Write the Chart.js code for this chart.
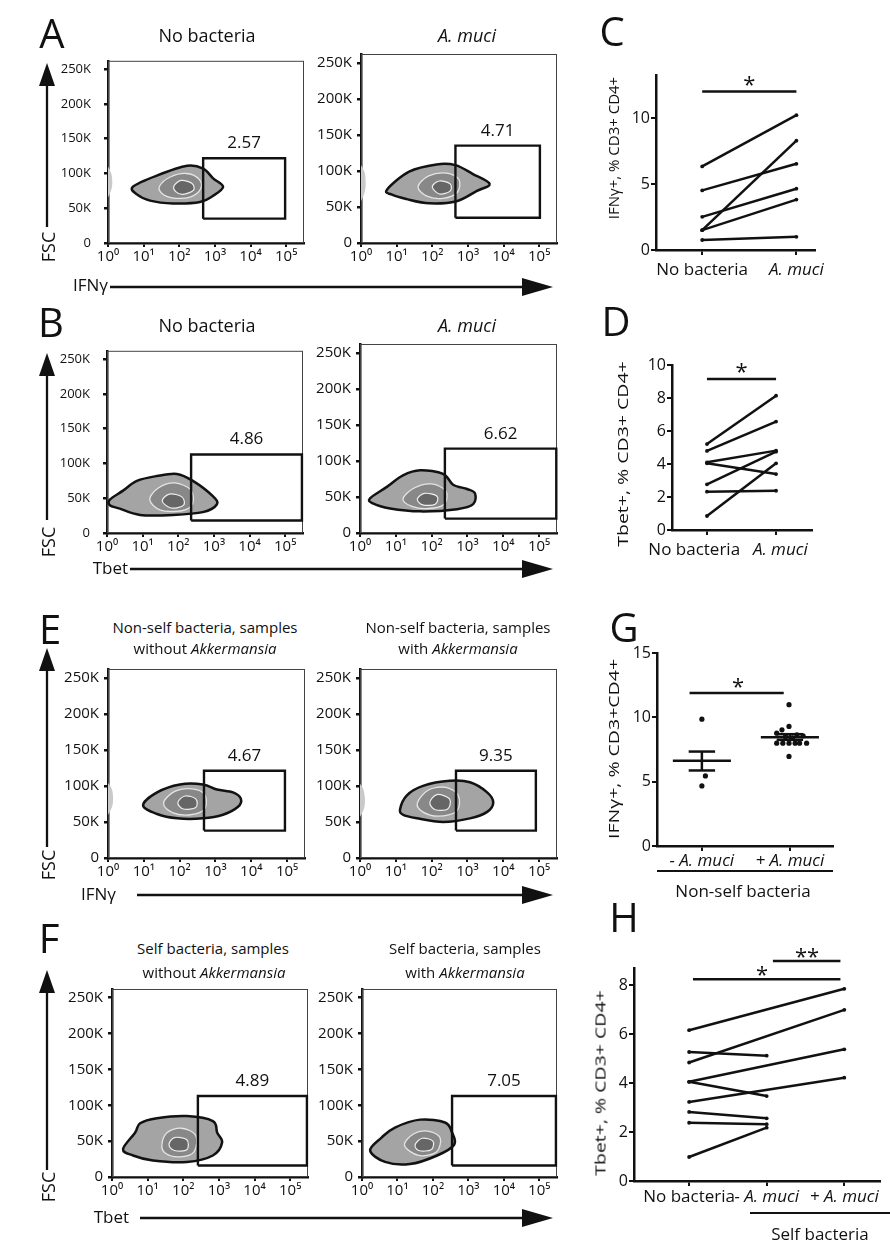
<!DOCTYPE html>
<html><head><meta charset="utf-8">
<script src="https://cdn.jsdelivr.net/npm/chart.js@4.4.1/dist/chart.umd.min.js"></script>
<style>
html,body{margin:0;padding:0;background:#fff;}
body{width:890px;height:1247px;position:relative;overflow:hidden;font-family:'Open Sans','DejaVu Sans',sans-serif;color:#111;}
canvas{position:absolute;}
.t{position:absolute;white-space:nowrap;line-height:1;color:#111;}
.ln{position:absolute;background:#111;}
svg{position:absolute;left:0;top:0;}
</style></head><body>
<script>
// ---------------- DATA ----------------
// Flow plots: axes
const decadeTicks = [0, 1, 2, 3, 4, 5];
const decadeLabels = ['10⁰', '10¹', '10²', '10³', '10⁴', '10⁵'];
const fscTicks = [0, 50, 100, 150, 200, 250];
const fscLabels = ['0', '50K', '100K', '150K', '200K', '250K'];
const decadeMax = 5.5;
const fscMax = 262.144;

// gate percentages
const gatePct = ['2.57', '4.71', '4.86', '6.62', '4.67', '9.35', '4.89', '7.05'];
// gates [xmin decade, xmax decade, ymin K, ymax K]
const gateA1 = [2.67, 4.97, 35, 122];
const gateA2 = [2.65, 5.02, 35, 135];
const gateB1 = [2.36, 5.47, 18, 113];
const gateB2 = [2.37, 5.48, 20, 117];
const gateE1 = [2.68, 4.94, 38, 121];
const gateE2 = [2.68, 4.91, 38, 121];
const gateF1 = [2.41, 5.47, 16, 113];
const gateF2 = [2.54, 5.47, 16, 113];

// contour outlines [decade, K]
const blobA1Outer = [[0.70,81],[1.37,97],[2.22,111],[2.67,107],[2.95,93],[3.23,81],[2.95,68],[2.58,59],[1.82,57],[1.18,61],[0.81,70]];
const blobA1Mid   = [[1.45,82],[1.75,95],[2.2,100],[2.55,92],[2.6,78],[2.3,66],[1.8,65],[1.5,72]];
const blobA1Core  = [[1.85,82],[2.05,90],[2.35,86],[2.4,76],[2.1,70],[1.9,74]];
const blobA2Outer = [[0.73,74],[1.35,99],[2.12,109],[2.65,108],[3.13,96],[3.61,82],[3.24,72],[2.68,58],[1.92,55],[1.27,61],[0.87,67]];
const blobA2Mid   = [[1.6,78],[1.9,93],[2.4,97],[2.75,88],[2.7,70],[2.3,62],[1.85,65]];
const blobA2Core  = [[2.0,78],[2.2,86],[2.5,82],[2.5,72],[2.2,68]];
const blobB1Outer = [[0.08,48],[0.45,61],[0.84,75],[1.40,82],[1.96,85],[2.41,75],[2.97,53],[3.08,41],[2.69,30],[1.85,26],[0.93,26],[0.36,35],[0.08,40]];
const blobB1Mid   = [[1.2,48],[1.45,65],[1.9,72],[2.35,62],[2.4,42],[2.1,32],[1.5,33]];
const blobB1Core  = [[1.55,46],[1.75,56],[2.1,52],[2.15,40],[1.8,36]];
const blobB2Outer = [[0.28,48],[0.75,64],[1.2,80],[1.68,87],[2.32,82],[2.6,67],[2.99,61],[3.21,55],[3.16,40],[2.71,33],[1.68,30],[0.84,34],[0.36,41]];
const blobB2Mid   = [[1.2,47],[1.5,62],[2.0,68],[2.4,58],[2.35,40],[1.9,34],[1.45,37]];
const blobB2Core  = [[1.6,47],[1.8,55],[2.15,51],[2.1,40],[1.75,39]];
const blobE1Outer = [[0.98,73],[1.37,91],[2.01,102],[2.65,102],[3.04,95],[3.49,91],[3.71,82],[3.63,71],[3.21,60],[2.65,55],[1.93,55],[1.37,61]];
const blobE1Mid   = [[1.55,76],[1.85,92],[2.35,96],[2.7,88],[2.7,68],[2.3,60],[1.8,63]];
const blobE1Core  = [[1.95,77],[2.15,86],[2.45,82],[2.45,70],[2.1,68]];
const blobE2Outer = [[1.12,68],[1.31,87],[1.76,100],[2.51,107],[3.07,105],[3.55,91],[3.72,77],[3.55,64],[3.07,55],[2.32,50],[1.59,55],[1.2,60]];
const blobE2Mid   = [[1.6,76],[1.9,94],[2.4,98],[2.75,86],[2.7,65],[2.2,58],[1.75,64]];
const blobE2Core  = [[1.95,77],[2.15,88],[2.5,82],[2.45,68],[2.1,67]];
const blobF1Outer = [[0.31,39],[0.65,62],[0.79,75],[1.26,82],[2.1,85],[2.83,78],[2.95,62],[3.09,48],[2.83,30],[2.1,21],[1.15,23],[0.59,30]];
const blobF1Mid   = [[1.4,45],[1.55,62],[1.95,68],[2.35,58],[2.3,35],[1.9,28],[1.5,33]];
const blobF1Core  = [[1.6,45],[1.75,55],[2.1,52],[2.1,38],[1.75,37]];
const blobF2Outer = [[0.23,37],[0.55,55],[0.93,69],[1.64,80],[2.34,76],[2.54,62],[2.6,45],[2.12,30],[1.35,18],[0.65,21]];
const blobF2Mid   = [[1.2,44],[1.45,60],[1.85,64],[2.2,55],[2.1,35],[1.6,30]];
const blobF2Core  = [[1.5,45],[1.7,54],[2.0,50],[1.95,38],[1.6,37]];
// faint events piled on the left axis
const ghostA1 = [[-0.1,62],[0.1,78],[0.09,100],[-0.1,112]];
const ghostA2 = [[-0.1,55],[0.11,72],[0.1,98],[-0.1,108]];
const ghostE1 = [[-0.1,58],[0.12,72],[0.11,95],[-0.1,104]];
const ghostE2 = [[-0.1,55],[0.12,70],[0.1,94],[-0.1,103]];

// Panel C: IFNy+ paired
const pairCats = ['No bacteria', 'A. muci'];
const cNoBacteria = [6.35, 4.53, 2.52, 1.51, 1.51, 0.76];
const cAmuci      = [10.25, 6.55, 4.66, 8.31, 3.83, 1.00];
const cTicks = [0, 5, 10];
const cSig = [0, 1, 12.04];
// Panel D: Tbet+ paired
const dNoBacteria = [5.21, 4.79, 4.10, 4.04, 2.77, 2.32, 0.85];
const dAmuci      = [8.14, 6.57, 4.81, 3.39, 4.75, 2.38, 4.04];
const dTicks = [0, 2, 4, 6, 8, 10];
const dSig = [0, 1, 9.15];
// Panel G: non-self bacteria
const gCats = ['- A. muci', '+ A. muci'];
const gMinusX = [0.00, 0.04, 0.00];
const gMinusY = [9.86, 5.45, 4.67];
const gPlusX = [0.99, 0.99, 0.91, 0.85, 1.08, 1.15, 0.95, 1.03, 0.85, 0.92, 0.99, 1.06, 1.11, 1.19, 0.99];
const gPlusY = [10.98, 9.29, 9.03, 8.77, 8.64, 8.56, 8.50, 8.40, 7.99, 7.99, 7.99, 7.99, 7.99, 7.99, 6.96];
const gMean = [6.62, 8.46];
const gSemLow = [5.87, 8.25];
const gSemHigh = [7.34, 8.69];
const gTicks = [0, 5, 10, 15];
const gSig = [-0.14, 0.93, 11.89];
// Panel H: self bacteria
const hCats = ['No bacteria', '- A. muci', '+ A. muci'];
const hStart = [6.16, 4.84, 4.05, 3.23, 5.27, 4.05, 2.82, 2.38, 0.98];
const hEndCat = [2, 2, 2, 2, 1, 1, 1, 1, 1];
const hEnd = [7.85, 6.99, 5.38, 4.22, 5.12, 3.47, 2.56, 2.32, 2.18];
const hTicks = [0, 2, 4, 6, 8];
const hSig1 = [0.05, 1.95, 8.24];
const hSig2 = [1.08, 1.95, 8.99];

// ---------------- RENDER ----------------
const FONT = "'Open Sans', 'DejaVu Sans', sans-serif";
const INK = '#111';

function txt(html, x, y, size, o) {
  o = o || {};
  const d = document.createElement('div');
  d.className = 't';
  d.innerHTML = html;
  const ax = o.right ? '-100%' : '-50%';
  let tf = `translate(${ax},-50%)`;
  if (o.rot) tf += ' rotate(-90deg)';
  if (o.sx) tf += ` scaleX(${o.sx})`;
  d.style.left = x + 'px'; d.style.top = y + 'px'; d.style.fontSize = size + 'px';
  d.style.transform = tf;
  if (o.right) d.style.transformOrigin = '100% 50%';
  document.body.appendChild(d);
}
function hline(x1, x2, y, w) {
  const d = document.createElement('div'); d.className = 'ln';
  d.style.cssText += `left:${x1}px;top:${y - w / 2}px;width:${x2 - x1}px;height:${w}px;`;
  document.body.appendChild(d);
}
function smoothClosed(ctx, pts) {
  const n = pts.length;
  ctx.beginPath();
  ctx.moveTo(pts[0][0], pts[0][1]);
  for (let i = 0; i < n; i++) {
    const p0 = pts[(i - 1 + n) % n], p1 = pts[i], p2 = pts[(i + 1) % n], p3 = pts[(i + 2) % n];
    const t = 1 / 6;
    ctx.bezierCurveTo(p1[0] + (p2[0] - p0[0]) * t, p1[1] + (p2[1] - p0[1]) * t,
      p2[0] - (p3[0] - p1[0]) * t, p2[1] - (p3[1] - p1[1]) * t, p2[0], p2[1]);
  }
  ctx.closePath();
}
function makeCanvas(left, top, w, h) {
  const cv = document.createElement('canvas');
  cv.width = w; cv.height = h;
  cv.style.left = left + 'px'; cv.style.top = top + 'px';
  cv.style.width = w + 'px'; cv.style.height = h + 'px';
  document.body.appendChild(cv);
  return cv;
}

const flowPlots = [
  { box: [108, 48, 196, 195], ypad: 13, yfont: 13, gate: gateA1, pct: gatePct[0], ghost: ghostA1, blobs: [blobA1Outer, blobA1Mid, blobA1Core] },
  { box: [361, 48, 196, 195], ypad: 5, yfont: 15, gate: gateA2, pct: gatePct[1], ghost: ghostA2, blobs: [blobA2Outer, blobA2Mid, blobA2Core] },
  { box: [107, 338, 196, 195], ypad: 13, yfont: 13, gate: gateB1, pct: gatePct[2], ghost: null, blobs: [blobB1Outer, blobB1Mid, blobB1Core] },
  { box: [360, 338, 197, 195], ypad: 5, yfont: 15, gate: gateB2, pct: gatePct[3], ghost: null, blobs: [blobB2Outer, blobB2Mid, blobB2Core] },
  { box: [108, 663, 197, 195], ypad: 5, yfont: 15, gate: gateE1, pct: gatePct[4], ghost: ghostE1, blobs: [blobE1Outer, blobE1Mid, blobE1Core] },
  { box: [360, 663, 197, 195], ypad: 5, yfont: 15, gate: gateE2, pct: gatePct[5], ghost: ghostE2, blobs: [blobE2Outer, blobE2Mid, blobE2Core] },
  { box: [112, 983, 196, 194], ypad: 5, yfont: 15, gate: gateF1, pct: gatePct[6], ghost: null, blobs: [blobF1Outer, blobF1Mid, blobF1Core] },
  { box: [362, 983, 195, 194], ypad: 5, yfont: 15, gate: gateF2, pct: gatePct[7], ghost: null, blobs: [blobF2Outer, blobF2Mid, blobF2Core] },
];
const ringFill = ['#a4a4a4', '#888888', '#666666'];
const ringStroke = ['#121212', '#e4e4e4', '#eeeeee'];
const ringWidth = [2.5, 1.3, 1.2];

function makeFlow(p) {
  const [L, T, W, H] = p.box;
  const YW = 70, XH = 34, PT = 8, PR = 8;
  const cv = makeCanvas(L - YW, T - PT, YW + W + PR, PT + H + XH);
  const g = p.gate;
  const decor = {
    id: 'flowDecor',
    beforeDatasetsDraw(chart) {
      const { ctx, chartArea: a, scales: { x, y } } = chart;
      const px = ring => ring.map(([vx, vy]) => [x.getPixelForValue(vx), y.getPixelForValue(vy)]);
      ctx.save();
      ctx.strokeStyle = '#444'; ctx.lineWidth = 1;
      ctx.strokeRect(a.left + 0.5, a.top + 0.5, a.width - 1, a.height - 1);
      ctx.beginPath(); ctx.rect(a.left, a.top, a.width, a.height); ctx.clip();
      if (p.ghost) { smoothClosed(ctx, px(p.ghost)); ctx.fillStyle = '#c9c9c9'; ctx.fill(); }
      p.blobs.forEach((ring, i) => {
        smoothClosed(ctx, px(ring));
        ctx.fillStyle = ringFill[i]; ctx.fill();
        ctx.strokeStyle = ringStroke[i]; ctx.lineWidth = ringWidth[i]; ctx.stroke();
      });
      ctx.restore();
    },
    afterDatasetsDraw(chart) {
      const { ctx, scales: { x, y } } = chart;
      ctx.save();
      ctx.fillStyle = INK; ctx.font = `17px ${FONT}`;
      ctx.textAlign = 'center'; ctx.textBaseline = 'alphabetic';
      ctx.fillText(p.pct, x.getPixelForValue((g[0] + g[1]) / 2), y.getPixelForValue(g[3]) - 10);
      ctx.restore();
    }
  };
  new Chart(cv, {
    type: 'line',
    data: { datasets: [{
      data: [{ x: g[0], y: g[2] }, { x: g[1], y: g[2] }, { x: g[1], y: g[3] }, { x: g[0], y: g[3] }, { x: g[0], y: g[2] }],
      borderColor: INK, borderWidth: 2.4, pointRadius: 0, tension: 0, fill: false, clip: false, borderJoinStyle: 'miter'
    }] },
    options: {
      animation: false, responsive: false, events: [], devicePixelRatio: 1,
      layout: { padding: { top: PT, right: PR, left: 0, bottom: 0 } },
      plugins: { legend: { display: false }, tooltip: { enabled: false } },
      scales: {
        x: {
          type: 'linear', min: 0, max: decadeMax,
          afterBuildTicks: s => { s.ticks = decadeTicks.map(v => ({ value: v })); },
          afterFit: s => { s.height = XH; },
          ticks: { autoSkip: false, maxRotation: 0, minRotation: 0, color: INK, padding: 1,
            font: { family: FONT, size: 15 }, callback: (v, i) => decadeLabels[i] },
          grid: { drawOnChartArea: false, drawTicks: true, tickLength: 4, color: INK, lineWidth: 2 },
          border: { display: true, color: INK, width: 2.5, dash: [1.5, 1.5] }
        },
        y: {
          type: 'linear', min: 0, max: fscMax,
          afterBuildTicks: s => { s.ticks = fscTicks.map(v => ({ value: v })); },
          afterFit: s => { s.width = YW; },
          ticks: { autoSkip: false, color: INK, padding: p.ypad,
            font: { family: FONT, size: p.yfont }, callback: (v, i) => fscLabels[i] },
          grid: { drawOnChartArea: false, drawTicks: true, tickLength: 4, color: INK, lineWidth: 2.5 },
          border: { display: true, color: INK, width: 2.5, dash: [1.5, 1.5] }
        }
      }
    },
    plugins: [decor]
  });
}
flowPlots.forEach(makeFlow);

// ---------- summary charts ----------
function makeSummary(cfg) {
  const [L, T, R, B] = cfg.area;
  const YW = 42, XH = cfg.xh, PT = 30, PR = cfg.pr || 10;
  const cv = makeCanvas(L - YW, T - PT, YW + (R - L) + PR, PT + (B - T) + XH);
  const stars = {
    id: 'stars',
    afterDatasetsDraw(chart) {
      const { ctx, scales: { x, y } } = chart;
      ctx.save(); ctx.fillStyle = INK; ctx.font = `22px ${FONT}`;
      ctx.textAlign = 'center'; ctx.textBaseline = 'alphabetic';
      cfg.stars.forEach(s => ctx.fillText(s.t, x.getPixelForValue(s.x), y.getPixelForValue(s.y) + s.off));
      ctx.restore();
    }
  };
  new Chart(cv, {
    type: 'line',
    data: { datasets: cfg.datasets },
    options: {
      animation: false, responsive: false, events: [], devicePixelRatio: 1,
      layout: { padding: { top: PT, right: PR, left: 0, bottom: 0 } },
      plugins: { legend: { display: false }, tooltip: { enabled: false } },
      scales: {
        x: {
          type: 'linear', min: cfg.xr[0], max: cfg.xr[1],
          afterBuildTicks: s => { s.ticks = cfg.xLabels.map((l, i) => ({ value: i })); },
          afterFit: s => { s.height = XH; },
          ticks: { autoSkip: false, maxRotation: 0, minRotation: 0, color: INK, padding: cfg.xpad,
            font: ctx => ({ family: FONT, size: 17, style: cfg.italic.includes(ctx.index) ? 'italic' : 'normal' }),
            callback: (v, i) => (cfg.padL ? cfg.padL[i] : '') + cfg.xLabels[i] + (cfg.padR ? cfg.padR[i] : '') },
          grid: { drawOnChartArea: false, drawTicks: true, tickLength: 5, color: INK, lineWidth: 2 },
          border: { display: true, color: INK, width: 2.5 }
        },
        y: {
          type: 'linear', min: cfg.yr[0], max: cfg.yr[1],
          afterBuildTicks: s => { s.ticks = cfg.yTicks.map(v => ({ value: v })); },
          afterFit: s => { s.width = YW; },
          ticks: { autoSkip: false, color: INK, padding: 1, font: { family: FONT, size: 16 }, callback: v => String(v) },
          grid: { drawOnChartArea: false, drawTicks: true, tickLength: 5, color: INK, lineWidth: 2 },
          border: { display: true, color: INK, width: 2.5 }
        }
      }
    },
    plugins: [stars]
  });
}
const lineStyle = { borderColor: INK, backgroundColor: INK, borderWidth: 2.5, pointRadius: 1.9, pointBorderWidth: 0, tension: 0, fill: false, clip: false };
const segStyle = { borderColor: INK, borderWidth: 2.5, pointRadius: 0, tension: 0, fill: false, clip: false };
function sigSet(s) { return Object.assign({ data: [{ x: s[0], y: s[2] }, { x: s[1], y: s[2] }] }, segStyle); }

// C
makeSummary({
  area: [656, 75, 820, 250], xr: [-0.49, 1.2], yr: [0, 13.3], yTicks: cTicks, xLabels: pairCats, italic: [1], xh: 40, xpad: 5,
  datasets: cNoBacteria.map((v, i) => Object.assign({ data: [{ x: 0, y: v }, { x: 1, y: cAmuci[i] }] }, lineStyle)).concat([sigSet(cSig)]),
  stars: [{ t: '*', x: 0.5, y: cSig[2], off: 0 }]
});
// D
makeSummary({
  area: [672, 365, 812, 530], xr: [-0.506, 1.52], yr: [0, 10], yTicks: dTicks, xLabels: pairCats, italic: [1], xh: 40, xpad: 5,
  padL: ['', '\u2002'], padR: ['\u2003\u2002', ''],
  datasets: dNoBacteria.map((v, i) => Object.assign({ data: [{ x: 0, y: v }, { x: 1, y: dAmuci[i] }] }, lineStyle)).concat([sigSet(dSig)]),
  stars: [{ t: '*', x: 0.5, y: dSig[2], off: 0 }]
});
// G
const gSets = [
  Object.assign({ data: gMinusX.map((x, i) => ({ x, y: gMinusY[i] })), showLine: false }, { borderColor: INK, backgroundColor: INK, pointRadius: 2.6, pointBorderWidth: 0, clip: false }),
  Object.assign({ data: gPlusX.map((x, i) => ({ x, y: gPlusY[i] })), showLine: false }, { borderColor: INK, backgroundColor: INK, pointRadius: 2.6, pointBorderWidth: 0, clip: false }),
];
gMean.forEach((m, i) => {
  gSets.push(Object.assign({ data: [{ x: i - 0.33, y: m }, { x: i + 0.33, y: m }] }, segStyle));
  gSets.push(Object.assign({ data: [{ x: i - 0.15, y: gSemLow[i] }, { x: i + 0.15, y: gSemLow[i] }] }, segStyle));
  gSets.push(Object.assign({ data: [{ x: i - 0.15, y: gSemHigh[i] }, { x: i + 0.15, y: gSemHigh[i] }] }, segStyle));
  gSets.push(Object.assign({ data: [{ x: i, y: gSemLow[i] }, { x: i, y: gSemHigh[i] }] }, segStyle));
});
gSets.push(sigSet(gSig));
makeSummary({
  area: [657, 653, 833, 846], xr: [-0.51, 1.49], yr: [0, 15], yTicks: gTicks, xLabels: gCats, italic: [0, 1], xh: 30, xpad: 0,
  datasets: gSets,
  stars: [{ t: '*', x: 0.41, y: gSig[2], off: 1 }]
});
// H
makeSummary({
  area: [634, 968, 880, 1181], xr: [-0.71, 2.46], yr: [0, 8.7], yTicks: hTicks, xLabels: hCats, italic: [1, 2], xh: 32, xpad: 1, pr: 10,
  datasets: hStart.map((v, i) => Object.assign({ data: [{ x: 0, y: v }, { x: hEndCat[i], y: hEnd[i] }] }, lineStyle)).concat([sigSet(hSig1), sigSet(hSig2)]),
  stars: [{ t: '*', x: 0.94, y: hSig1[2], off: 3 }, { t: '**', x: 1.52, y: hSig2[2], off: 3 }]
});

// ---------- text & arrows ----------
const LS = 40;
txt('A', 52, 33, LS); txt('B', 51, 322, LS); txt('C', 612, 31, LS); txt('D', 616, 321, LS);
txt('E', 50, 629, LS); txt('F', 49, 938, LS); txt('G', 624, 627, LS); txt('H', 624, 917, LS);

txt('No bacteria', 207, 35, 18); txt('<i>A. muci</i>', 467, 35, 18);
txt('No bacteria', 207, 325, 18); txt('<i>A. muci</i>', 467, 325, 18);
txt('Non-self bacteria, samples', 205, 627, 15); txt('without <i>Akkermansia</i>', 205, 648, 15);
txt('Non-self bacteria, samples', 458, 627, 15); txt('with <i>Akkermansia</i>', 458, 648, 15);
txt('Self bacteria, samples', 213, 948, 15); txt('without <i>Akkermansia</i>', 214, 972, 15);
txt('Self bacteria, samples', 465, 948, 15); txt('with <i>Akkermansia</i>', 465, 972, 15);

[247, 542, 865, 1187].forEach(y => txt('FSC', 48, y, 18, { rot: 1 }));
txt('IFNγ', 108, 284, 17, { right: 1 }); txt('Tbet', 128, 567, 17, { right: 1 });
txt('IFNγ', 116, 893, 17, { right: 1 }); txt('Tbet', 129, 1216, 17, { right: 1 });

txt('IFNγ+, % CD3+ CD4+', 613, 148, 15, { rot: 1 });
txt('Tbet+, % CD3+ CD4+', 622, 454, 15, { rot: 1, sx: 1.3 });
txt('IFNγ+, % CD3+CD4+', 613, 749, 15, { rot: 1, sx: 1.3 });
txt('Tbet+, % CD3+ CD4+', 600, 1083, 15, { rot: 1, sx: 1.3 });

hline(657, 833, 871, 2); txt('Non-self bacteria', 743, 890, 17);
hline(750, 890, 1213, 2); txt('Self bacteria', 820, 1233, 17);

const svgNS = 'http://www.w3.org/2000/svg';
const svg = document.createElementNS(svgNS, 'svg');
svg.setAttribute('width', 890); svg.setAttribute('height', 1247);
document.body.appendChild(svg);
function sv(tag, attrs) { const e = document.createElementNS(svgNS, tag); for (const k in attrs) e.setAttribute(k, attrs[k]); svg.appendChild(e); }
const vArrows = [[63, 227], [353, 520], [648, 847], [970, 1170]];
vArrows.forEach(([tip, base]) => {
  sv('line', { x1: 47, y1: base, x2: 47, y2: tip + 15, stroke: INK, 'stroke-width': 2.3 });
  sv('polygon', { points: `47,${tip} 39,${tip + 23} 55,${tip + 23}`, fill: INK });
});
const hArrows = [[287, 110], [569, 130], [895, 137], [1218, 140]];
hArrows.forEach(([y, x0]) => {
  sv('line', { x1: x0, y1: y, x2: 530, y2: y, stroke: INK, 'stroke-width': 2.3 });
  sv('polygon', { points: `553,${y} 522,${y - 9} 522,${y + 9}`, fill: INK });
});
</script>
</body></html>
